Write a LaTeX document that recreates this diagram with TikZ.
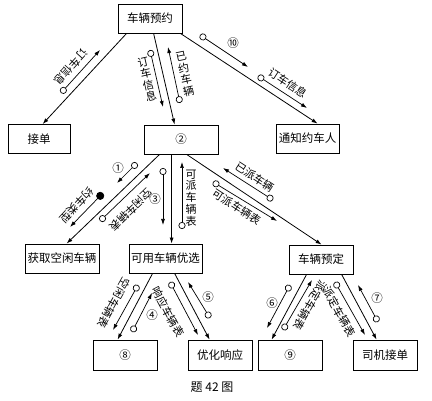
\documentclass[tikz,border=0pt]{standalone}
\usepackage{fontspec}
\setmainfont{Noto Sans CJK SC}
\usetikzlibrary{arrows.meta}

\begin{document}
\begin{tikzpicture}[x=1pt,y=-1pt,
  box/.style={draw,line width=0.8pt,minimum width=64pt,minimum height=29pt,inner sep=0pt,font=\fontsize{11.5}{12}\selectfont},
  link/.style={line width=0.8pt,-{Latex[length=6pt,width=4pt]}},
  flow/.style={line width=0.7pt,{Circle[open,length=7pt,width=7pt]}-{Latex[length=6pt,width=4pt]}},
  ctrl/.style={line width=0.7pt,{Circle[length=8pt,width=8pt]}-{Latex[length=6pt,width=4pt]}},
  lab/.style={inner sep=0pt,font=\fontsize{11}{12}\selectfont},
  col/.style={lab,align=center,font=\fontsize{11}{11.8}\selectfont},
  num/.style={inner sep=0pt,font=\fontsize{11.5}{11.5}\selectfont}]
\useasboundingbox (0,0) rectangle (432,401);

\node[box] (yuyue) at (150,18.5) {车辆预约};
\node[box,minimum width=62pt] (jiedan) at (39,139) {接单};
\node[box,minimum width=74pt] (p2) at (181,139.5) {②};
\node[box,minimum width=63pt] (tongzhi) at (307.5,138.5) {通知约车人};
\node[box,minimum width=74pt] (huoqu) at (62,258.5) {获取空闲车辆};
\node[box,minimum width=73pt] (youxuan) at (165.5,258.5) {可用车辆优选};
\node[box] (yuding) at (321,259.5) {车辆预定};
\node[box,minimum height=30pt] (b8) at (125,355) {⑧};
\node[box,minimum height=30pt] (xiangying) at (220,355) {优化响应};
\node[box,minimum height=30pt] (b9) at (290,355) {⑨};
\node[box,minimum height=30pt] (siji) at (385,355) {司机接单};
\node[font=\fontsize{12}{12}\selectfont] (cap) at (212,387) {题 42 图};

\draw[link] ([xshift=9pt]yuyue.south west) -- ([xshift=35pt]jiedan.north west);
\draw[link] ([xshift=36pt]yuyue.south west) -- ([xshift=31pt]p2.north west);
\draw[link] ([xshift=-2pt]yuyue.south east) -- ([xshift=42pt]tongzhi.north west);
\draw[link] ([xshift=16pt]p2.south west) -- ([xshift=42pt]huoqu.north west);
\draw[link] ([xshift=28pt]p2.south west) -- ([xshift=43pt]youxuan.north west);
\draw[link] ([xshift=43pt]p2.south west) -- ([xshift=33pt]yuding.north west);
\draw[link] ([xshift=24pt]youxuan.south west) -- ([xshift=25pt]b8.north west);
\draw[link] ([xshift=46pt]youxuan.south west) -- ([xshift=22pt]xiangying.north west);
\draw[link] ([xshift=18pt]yuding.south west) -- ([xshift=14pt]b9.north west);
\draw[link] ([xshift=53pt]yuding.south west) -- ([xshift=24pt]siji.north west);

\coordinate (f1a) at (61,93);   \coordinate (f1b) at (100,50);
\coordinate (f2a) at (150,50);  \coordinate (f2b) at (163,107);
\coordinate (f3a) at (180,103); \coordinate (f3b) at (168,47);
\coordinate (f4a) at (200,35);  \coordinate (f4b) at (248,67);
\coordinate (f5a) at (258,76);  \coordinate (f5b) at (307,108);
\coordinate (f6a) at (137,163); \coordinate (f6b) at (117,183);
\coordinate (f7a) at (103,193); \coordinate (f7b) at (70,227);
\coordinate (f8a) at (100,221); \coordinate (f8b) at (150,173);
\coordinate (f9a) at (163,168); \coordinate (f9b) at (163,225);
\coordinate (f10a) at (182,229); \coordinate (f10b) at (182,162);
\coordinate (f11a) at (273,200); \coordinate (f11b) at (223,168);
\coordinate (f12a) at (213,182); \coordinate (f12b) at (277,221);
\coordinate (f13a) at (138,285); \coordinate (f13b) at (113,330);
\coordinate (f14a) at (132,332); \coordinate (f14b) at (152,293);
\coordinate (f15a) at (170,282); \coordinate (f15b) at (198,335);
\coordinate (f16a) at (210,318); \coordinate (f16b) at (188,282);
\coordinate (f17a) at (290,285); \coordinate (f17b) at (267,328);
\coordinate (f18a) at (283,330); \coordinate (f18b) at (312,280);
\coordinate (f19a) at (335,282); \coordinate (f19b) at (365,335);
\coordinate (f20a) at (378,322); \coordinate (f20b) at (358,285);

\foreach \i in {1,2,3,4,5,6,8,9,10,11,12,13,14,15,16,17,18,19,20}
  \draw[flow] (f\i a) -- (f\i b);
\draw[ctrl] (f7a) -- (f7b);

\node[lab,rotate=228] (l1) at (71,67) {订车信息};
\node[col,rotate=13] (l2) at (147,79) {订\\车\\信\\息};
\node[col,rotate=12] (l3) at (185,74) {已\\约\\车\\辆};
\node[num] (l4) at (233,43) {⑩};
\node[lab,rotate=-33] (l5) at (288,83) {订车信息};
\node[num] (l6) at (118,168) {①};
\node[lab,rotate=227] (l7) at (77,205) {约车类型};
\node[lab,rotate=224] (l8) at (131,210) {空闲车辆表};
\node[num] (l9) at (155,199) {③};
\node[col] (l10) at (191,198) {可\\派\\车\\辆\\表};
\node[lab,rotate=-33] (l11) at (255,177) {已派车辆};
\node[lab,rotate=-33] (l12) at (237,207) {可派车辆表};
\node[lab,rotate=241] (l13) at (114,303) {空闲车辆表};
\node[num] (l14) at (152,315) {④};
\node[lab,rotate=-62] (l15) at (168,312) {响应车辆表};
\node[num] (l16) at (208,297) {⑤};
\node[num] (l17) at (272,303) {⑥};
\node[lab,rotate=240] (l18) at (310,305) {派定车辆表};
\node[lab,rotate=-61] (l19) at (339,312) {派定车辆表};
\node[num] (l20) at (377,298) {⑦};
\end{tikzpicture}
\end{document}
